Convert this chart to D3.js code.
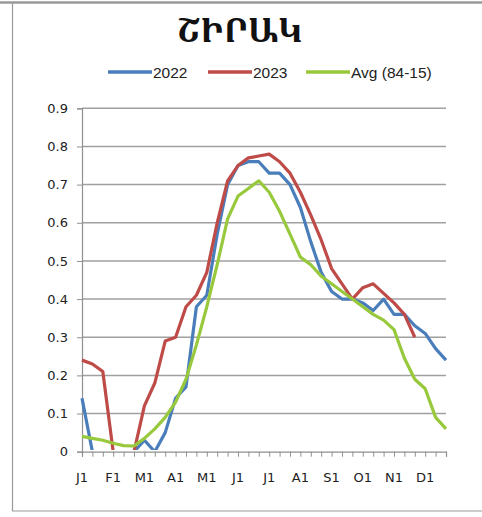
<!DOCTYPE html>
<html>
<head>
<meta charset="utf-8">
<script src="https://cdn.jsdelivr.net/npm/d3@7"></script>
<style>
  html, body { margin: 0; padding: 0; background: #fff; }
  svg { display: block; }
</style>
</head>
<body>
<svg id="chart" width="482" height="517"></svg>
<script>
const title = "ՇԻՐԱԿ";
const monthLabels = ["J1","F1","M1","A1","M1","J1","J1","A1","S1","O1","N1","D1"];
const yTicks = [0, 0.1, 0.2, 0.3, 0.4, 0.5, 0.6, 0.7, 0.8, 0.9];
const seriesNames = ["2022", "2023", "Avg (84-15)"];
const seriesColors = ["#4a7ebb", "#be4b48", "#98c93c"];

const values2022 = [0.14, 0, 0, 0, 0, 0, 0.03, 0, 0.05, 0.14, 0.17, 0.38,
  0.41, 0.57, 0.70, 0.75, 0.76, 0.76, 0.73, 0.73, 0.70, 0.64, 0.55, 0.47,
  0.42, 0.40, 0.40, 0.39, 0.37, 0.40, 0.36, 0.36, 0.33, 0.31, 0.27, 0.24];
const values2023 = [0.24, 0.23, 0.21, 0, 0, 0, 0.12, 0.18, 0.29, 0.30, 0.38, 0.41,
  0.47, 0.60, 0.71, 0.75, 0.77, 0.775, 0.78, 0.76, 0.73, 0.68, 0.62, 0.555,
  0.48, 0.44, 0.40, 0.43, 0.44, 0.415, 0.39, 0.36, 0.30, null, null, null];
const valuesAvg = [0.04, 0.035, 0.03, 0.022, 0.016, 0.015, 0.035, 0.06, 0.09, 0.13, 0.19, 0.28,
  0.38, 0.49, 0.61, 0.67, 0.69, 0.71, 0.68, 0.63, 0.57, 0.51, 0.49, 0.46,
  0.44, 0.42, 0.40, 0.38, 0.36, 0.345, 0.32, 0.245, 0.19, 0.165, 0.09, 0.06];

const series = [values2022, values2023, valuesAvg];
const nPoints = values2022.length;

const svg = d3.select("#chart");

// frame
svg.append("line").attr("x1", 0).attr("x2", 482).attr("y1", 2.5).attr("y2", 2.5)
  .attr("stroke", "#9a9a9a").attr("stroke-width", 2.5);
svg.append("line").attr("x1", 12.5).attr("x2", 12.5).attr("y1", 3).attr("y2", 511)
  .attr("stroke", "#9a9a9a").attr("stroke-width", 1.2);
svg.append("line").attr("x1", 12).attr("x2", 482).attr("y1", 511).attr("y2", 511)
  .attr("stroke", "#9a9a9a").attr("stroke-width", 1.2);

const x = d3.scaleLinear().domain([0, nPoints - 1]).range([82, 446]);
const y = d3.scaleLinear().domain([0, 0.9]).range([451.7, 108.3]);

// title
svg.append("text").attr("x", 240).attr("y", 42).attr("text-anchor", "middle")
  .attr("font-family", "Noto Serif Armenian, DejaVu Serif, serif").attr("font-weight", "bold")
  .attr("font-size", 33).attr("fill", "#111").text(title);

// legend
const legendX = [108, 208, 306];
seriesNames.forEach((name, i) => {
  const g = svg.append("g").attr("transform", `translate(${legendX[i]},72)`);
  g.append("line").attr("x1", 0).attr("x2", 44).attr("y1", 0).attr("y2", 0)
    .attr("stroke", seriesColors[i]).attr("stroke-width", 3.5);
  g.append("text").attr("x", 45).attr("y", 5.5).attr("font-family", "Liberation Sans, Arial, sans-serif")
    .attr("font-size", 15.5).attr("fill", "#222").text(name);
});

// gridlines
svg.append("g").selectAll("line").data(yTicks.filter(d => d > 0)).join("line")
  .attr("x1", 82).attr("x2", 446).attr("y1", d => y(d)).attr("y2", d => y(d))
  .attr("stroke", "#a0a0a0").attr("stroke-width", 1.5);

// y axis
const yAxis = d3.axisLeft(y).tickValues(yTicks).tickSize(5).tickPadding(9)
  .tickFormat(d => d === 0 ? "0" : d3.format(".1f")(d));
const gy = svg.append("g").attr("transform", "translate(82,0)").call(yAxis);
gy.select(".domain").attr("stroke", "#909090").attr("stroke-width", 1.2);
gy.selectAll(".tick line").attr("stroke", "#909090");
gy.selectAll("text").attr("font-family", "DejaVu Sans, sans-serif").attr("font-size", 13).attr("fill", "#222");

// clip for lines (values at zero sit hidden under the axis)
svg.append("clipPath").attr("id", "plotclip").append("rect")
  .attr("x", 70).attr("y", 100).attr("width", 390).attr("height", y(0) - 100 - 1.7);

const line = d3.line().defined(d => d != null).x((d, i) => x(i)).y(d => y(d));
const lg = svg.append("g").attr("clip-path", "url(#plotclip)");
series.forEach((vals, i) => {
  lg.append("path").datum(vals).attr("d", line).attr("fill", "none")
    .attr("stroke", seriesColors[i]).attr("stroke-width", 3.2)
    .attr("stroke-linejoin", "round");
});

// x axis
const xAxis = d3.axisBottom(x).tickValues(d3.range(nPoints)).tickSize(5).tickFormat("");
const gx = svg.append("g").attr("transform", `translate(0,${y(0)})`).call(xAxis);
gx.select(".domain").attr("stroke", "#909090").attr("stroke-width", 1.2);
gx.selectAll(".tick line").attr("stroke", "#909090");
svg.append("g").selectAll("text").data(monthLabels).join("text")
  .attr("x", (d, i) => x(i * 3)).attr("y", y(0) + 30)
  .attr("text-anchor", "middle")
  .attr("font-family", "DejaVu Sans, sans-serif").attr("font-size", 13).attr("fill", "#222")
  .text(d => d);
</script>
</body>
</html>
